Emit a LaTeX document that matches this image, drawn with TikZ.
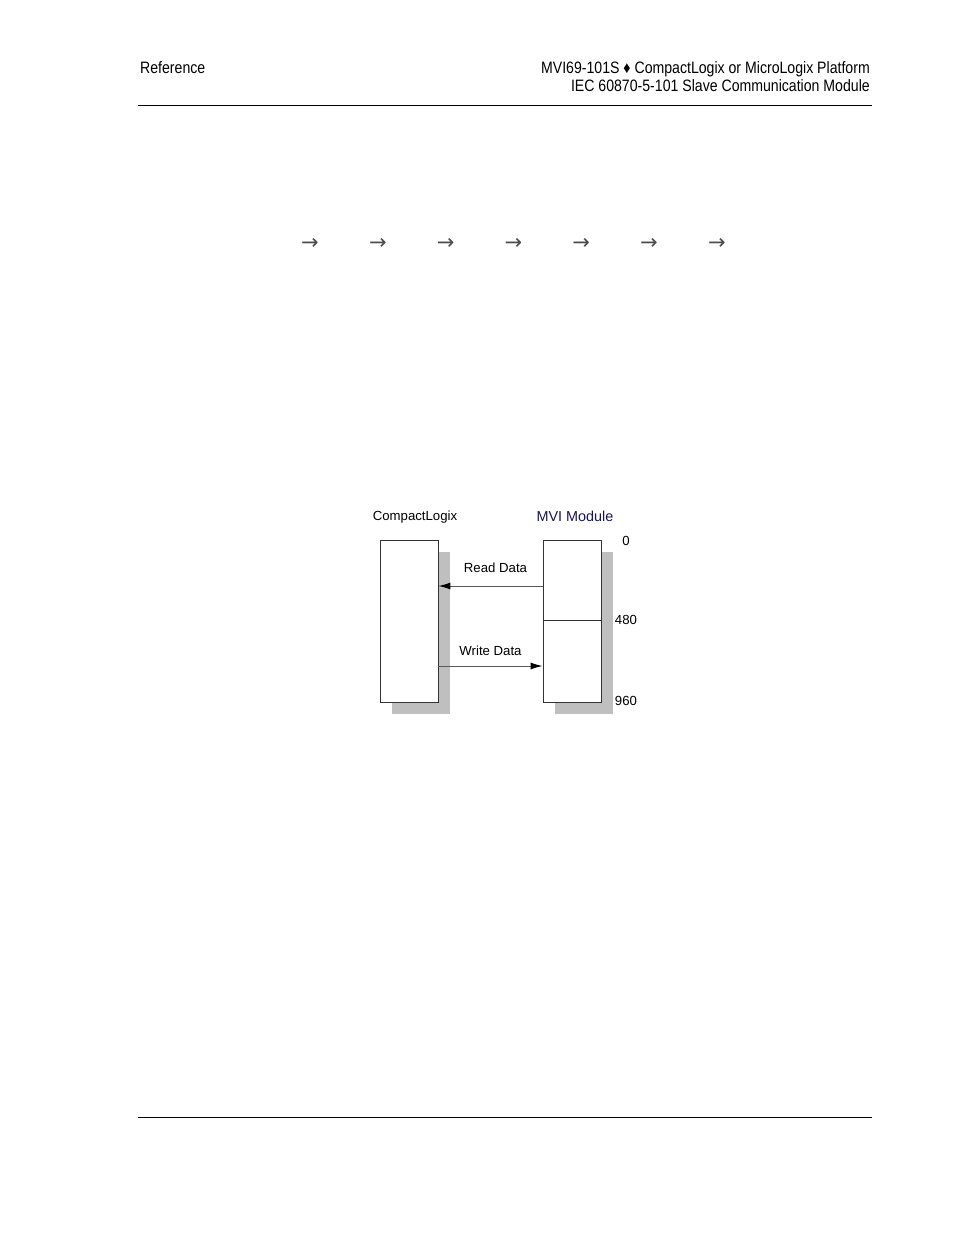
\documentclass[tikz,border=0pt]{standalone}
\usepackage{fontspec}
\setmainfont{Liberation Sans}
\newfontfamily\narrowfont[FakeStretch=0.855]{Liberation Sans}
\newfontfamily\symfont{DejaVu Sans}
\usetikzlibrary{arrows.meta,shadows}

\begin{document}
\begin{tikzpicture}[x=1pt,y=-1pt,>={Latex[length=12pt,width=7pt,black]},
		every node/.style={inner sep=0pt},
		hdr/.style={font=\narrowfont\fontsize{16.5}{20}\selectfont},
		lbl/.style={font=\fontsize{13.2}{15}\selectfont},
		memory/.style={draw=black!80,line width=0.8pt,fill=white,minimum width=58pt,
			drop shadow={shadow xshift=12pt,shadow yshift=-12pt,fill=black!25,opacity=1}},
		flow/.style={->,draw=black!65,line width=1pt}]
			\useasboundingbox (0,0) rectangle (954,1235);

			% page header and footer
			\node[hdr,anchor=base west] (ref) at (140,73) {Reference};
			\node[hdr,anchor=base east] (title) at (870,73) {MVI69-101S ♦ CompactLogix or MicroLogix Platform};
			\node[hdr,anchor=base east] (subtitle) at (870,91) {IEC 60870-5-101 Slave Communication Module};
			\draw[line width=0.9pt] (138,105) -- (872,105);
			\draw[line width=0.9pt] (138,1117) -- (872,1117);

			% row of arrows
			\foreach \i in {0,...,6}
				\node[text=black!70,font=\symfont\fontsize{21}{24}\selectfont] (step\i) at (310+67.8*\i,244) {→};

			% processor and module
			\node[memory,minimum height=162pt] (plc) at (409,621) {};
			\node[memory,minimum height=162pt] (mvi) at (572,621) {};
			\draw[black!80,line width=0.6pt] (mvi.west |- 0,620) -- (mvi.east |- 0,620);

			\node[lbl,anchor=base] (plcname) at (415,520) {CompactLogix};
			\node[lbl,anchor=base,font=\fontsize{14.4}{16}\selectfont,text={rgb,255:red,20;green,20;blue,90}] (mviname) at (575,521) {MVI Module};
			\node[lbl,anchor=base] (addr0) at (626,545) {0};
			\node[lbl,anchor=base] (addr480) at (626,624) {480};
			\node[lbl,anchor=base] (addr960) at (626,705) {960};

			\coordinate (rd) at (0,586);
			\coordinate (wr) at (0,666);
			\draw[flow] (mvi.west |- rd) -- node[lbl,above=13pt,xshift=5pt] {Read Data} (plc.east |- rd);
			\draw[flow] (plc.east |- wr) -- node[lbl,above=10pt] {Write Data} (mvi.west |- wr);
		\end{tikzpicture}
\end{document}
